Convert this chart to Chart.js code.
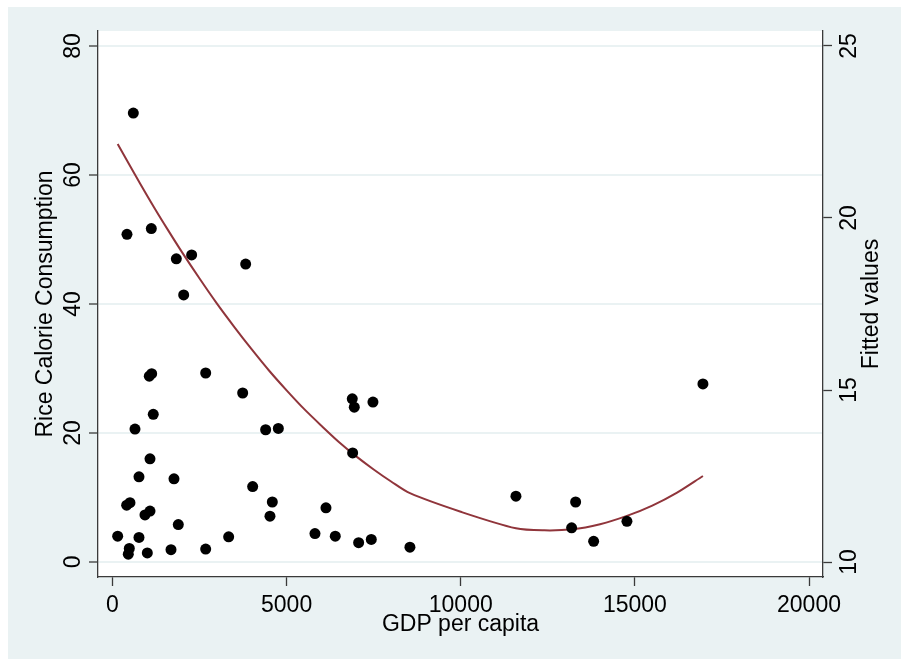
<!DOCTYPE html>
<html>
<head>
<meta charset="utf-8">
<script src="https://cdn.jsdelivr.net/npm/chart.js@4"></script>
<style>
  html, body { margin: 0; padding: 0; background: #fff; }
  #wrap { width: 901px; height: 659px; }
</style>
</head>
<body>
<div id="wrap"><canvas id="chart" width="901" height="659"></canvas></div>
<script>
// GDP per capita vs rice calorie consumption
const gdp = [1171, 646, 4398, 4762, 1077, 761, 1766, 4025, 407, 502,
  4589, 933, 1077, 4522, 1890, 149, 761, 3336, 483, 454,
  1000, 1680, 2676, 598, 416, 1115, 1833, 2273, 3824, 2044,
  1057, 1125, 2676, 3738, 6885, 6943, 7479, 6896, 6130, 5814,
  6397, 7068, 7431, 8541, 16954, 11585, 13299, 13184, 14772, 13816];
const rice = [22.9, 20.6, 20.5, 20.7, 16.0, 13.2, 12.9, 11.7, 8.8, 9.2,
  9.3, 7.3, 7.9, 7.1, 5.8, 4.0, 3.8, 3.9, 2.1, 1.2,
  1.4, 1.9, 2.0, 69.6, 50.8, 51.7, 47.0, 47.6, 46.2, 41.4,
  28.8, 29.2, 29.3, 26.2, 25.3, 24.0, 24.8, 16.9, 8.4, 4.4,
  4.0, 3.0, 3.5, 2.3, 27.6, 10.2, 9.3, 5.3, 6.3, 3.2];

// fitted values line (right axis)
const fitGdp = [149, 400, 800, 1200, 1600, 2000, 2500, 3000, 3500, 4000,
  4500, 5000, 5500, 6000, 6500, 7000, 7500, 8000, 8541, 10000,
  11585, 12400, 13200, 14000, 14772, 15500, 16200, 16954];
const fitVals = [22.15, 21.70, 20.99, 20.30, 19.64, 19.00, 18.24, 17.51, 16.83, 16.18,
  15.56, 14.99, 14.45, 13.96, 13.49, 13.07, 12.69, 12.34, 12.00, 11.46,
  10.98, 10.92, 10.95, 11.10, 11.34, 11.64, 12.01, 12.50];

const xTicks = [0, 5000, 10000, 15000, 20000];
const leftTicks = [0, 20, 40, 60, 80];
const rightTicks = [10, 15, 20, 25];

const panelBg = '#eaf2f3';
const axisCol = '#3a3a3a';
const font = '23px "Liberation Sans", Arial, Helvetica, sans-serif';

const background = {
  id: 'background',
  beforeDraw(chart) {
    const ctx = chart.ctx;
    const a = chart.chartArea;
    ctx.save();
    ctx.fillStyle = '#fff';
    ctx.fillRect(0, 0, chart.width, chart.height);
    ctx.fillStyle = panelBg;
    ctx.fillRect(8, 7, chart.width - 8, chart.height - 7);
    ctx.fillStyle = '#fff';
    ctx.fillRect(a.left, a.top, a.right - a.left, a.bottom - a.top);
    ctx.restore();
  }
};

// Stata style labels: y labels and titles rotated to read upwards
const axisText = {
  id: 'axisText',
  afterDraw(chart) {
    const ctx = chart.ctx;
    const a = chart.chartArea;
    const sx = chart.scales.x, sy = chart.scales.y, sy2 = chart.scales.y2;
    ctx.save();
    ctx.fillStyle = '#000';
    ctx.font = font;
    ctx.textAlign = 'center';
    ctx.textBaseline = 'alphabetic';
    xTicks.forEach(v => ctx.fillText(String(v), sx.getPixelForValue(v), 612));
    ctx.fillText('GDP per capita', (a.left + a.right) / 2, 631);

    const vtext = (s, px, py) => {
      ctx.save();
      ctx.translate(px, py);
      ctx.rotate(-Math.PI / 2);
      ctx.fillText(s, 0, 0);
      ctx.restore();
    };
    ctx.textBaseline = 'middle';
    leftTicks.forEach(v => vtext(String(v), 74, sy.getPixelForValue(v)));
    rightTicks.forEach(v => vtext(String(v), 850, sy2.getPixelForValue(v)));
    const midY = (a.top + a.bottom) / 2;
    vtext('Rice Calorie Consumption', 46, midY);
    vtext('Fitted values', 872, midY);
    ctx.restore();
  }
};

new Chart(document.getElementById('chart'), {
  type: 'scatter',
  data: {
    datasets: [
      {
        label: 'Rice Calorie Consumption',
        data: gdp.map((g, i) => ({ x: g, y: rice[i] })),
        backgroundColor: '#000',
        borderWidth: 0,
        pointRadius: 5.5,
        yAxisID: 'y'
      },
      {
        label: 'Fitted values',
        data: fitGdp.map((g, i) => ({ x: g, y: fitVals[i] })),
        showLine: true,
        borderColor: '#90353b',
        borderWidth: 2,
        pointRadius: 0,
        tension: 0.3,
        yAxisID: 'y2'
      }
    ]
  },
  options: {
    responsive: false,
    animation: false,
    layout: { padding: { top: 31, left: 0, right: 0, bottom: 0 } },
    plugins: { legend: { display: false }, tooltip: { enabled: false } },
    scales: {
      x: {
        type: 'linear',
        min: -416,
        max: 20402,
        afterBuildTicks: (s) => { s.ticks = xTicks.map(v => ({ value: v })); },
        afterFit: (s) => { s.height = 82; },
        ticks: { display: false },
        grid: { drawOnChartArea: false, drawTicks: true, tickLength: 9, tickColor: axisCol, tickWidth: 1.3 },
        border: { display: true, color: axisCol, width: 1.3 }
      },
      y: {
        type: 'linear',
        position: 'left',
        min: -2.33,
        max: 82.33,
        afterBuildTicks: (s) => { s.ticks = leftTicks.map(v => ({ value: v })); },
        afterFit: (s) => { s.width = 98; },
        ticks: { display: false },
        grid: { color: panelBg, lineWidth: 2, drawTicks: true, tickLength: 9, tickColor: axisCol, tickWidth: 1.3 },
        border: { display: true, color: axisCol, width: 1.3 }
      },
      y2: {
        type: 'linear',
        position: 'right',
        min: 9.564,
        max: 25.436,
        afterBuildTicks: (s) => { s.ticks = rightTicks.map(v => ({ value: v })); },
        afterFit: (s) => { s.width = 78; },
        ticks: { display: false },
        grid: { drawOnChartArea: false, drawTicks: true, tickLength: 9, tickColor: axisCol, tickWidth: 1.3 },
        border: { display: true, color: axisCol, width: 1.3 }
      }
    }
  },
  plugins: [background, axisText]
});
</script>
</body>
</html>
